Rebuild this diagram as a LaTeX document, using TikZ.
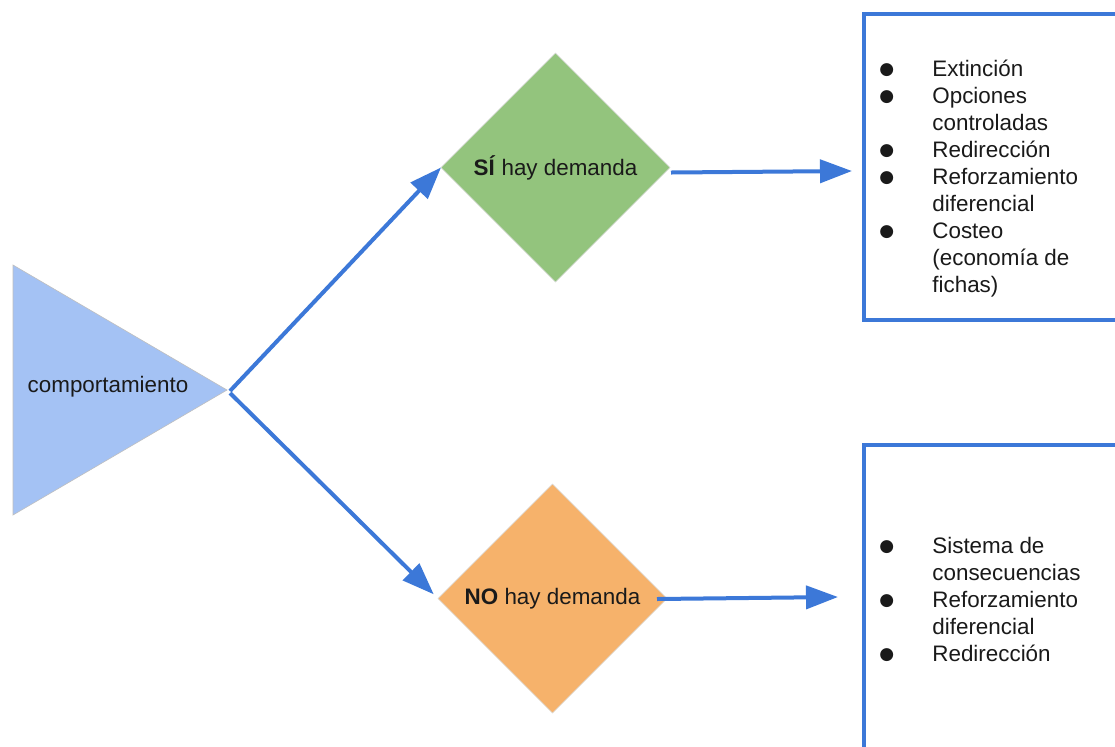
\documentclass[tikz,border=0pt]{standalone}
\usepackage{fontspec}
\setmainfont{Liberation Sans}
\newfontfamily\dejavu{DejaVu Sans}
\usetikzlibrary{shapes.geometric,arrows.meta,calc}
\definecolor{myblue}{HTML}{3C78D8}
\definecolor{trifill}{HTML}{A4C2F4}
\definecolor{grnfill}{HTML}{93C47D}
\definecolor{orgfill}{HTML}{F6B26B}
\definecolor{txt}{HTML}{1A1A1A}
\newcommand{\bul}{\raisebox{0.9pt}{\fontsize{8.5}{10}\dejavu ●}}
\begin{document}
\begin{tikzpicture}[x=0.5pt,y=-0.5pt,
  arr/.style={draw=myblue, line width=2pt, -{Triangle[length=16pt,width=11.5pt]}},
  dia/.style={diamond, minimum width=114.5pt, minimum height=114.5pt, inner sep=0pt, outer sep=0pt, draw=black!15, line width=0.3pt, text=txt, font=\fontsize{11.2}{13.5}\selectfont},
  outbox/.style={draw=myblue, line width=2pt, fill=white, outer sep=0pt, inner sep=0pt, anchor=north west},
  lst/.style={inner sep=0pt, anchor=north west, text=txt, font=\fontsize{11.2}{13.5}\selectfont},
  lbl/.style={text=txt, font=\fontsize{11.2}{13.5}\selectfont}
]
\useasboundingbox (0,0) rectangle (1115,746);
\clip (0,0) rectangle (1115,746);
\fill[white] (0,0) rectangle (1115,746);
% triangle
\fill[trifill, draw=black!25, line width=0.3pt] (13,265) -- (13,515) -- (227,390) -- cycle;
\node[lbl, anchor=base] (comp) at (108,392) {comportamiento};
\coordinate (apex) at (230,391);
% diamonds
\node[dia, fill=grnfill] (si) at (555.5,167.5) {\textbf{SÍ} hay demanda};
\node[dia, fill=orgfill] (no) at (552.5,598.5) {\textbf{NO} hay demanda};
% boxes
\node[outbox, minimum width=150pt, minimum height=153pt] (b1) at (864,14) {};
\node[outbox, minimum width=150pt, minimum height=200pt] (b2) at (864,445) {};
\renewcommand{\arraystretch}{1}
\node[lst] (l1) at (879,57) {\begin{tabular}{@{}p{26.5pt}@{}l@{}}
\bul & Extinción\\
\bul & Opciones\\
 & controladas\\
\bul & Redirección\\
\bul & Reforzamiento\\
 & diferencial\\
\bul & Costeo\\
 & (economía de\\
 & fichas)
\end{tabular}};
\node[lst] (l2) at (879,534) {\begin{tabular}{@{}p{26.5pt}@{}l@{}}
\bul & Sistema de\\
 & consecuencias\\
\bul & Reforzamiento\\
 & diferencial\\
\bul & Redirección
\end{tabular}};
% arrows
\draw[arr] (apex) -- (si.west);
\draw[arr, shorten >=3pt] ([yshift=-1pt]apex) -- (no.west);
\coordinate (s1) at (671,172.5);
\coordinate (e1) at (852,171);
\coordinate (s2) at (657,599);
\coordinate (e2) at (838,597);
\draw[arr] (s1) -- (e1);
\draw[arr] (s2) -- (e2);
\end{tikzpicture}
\end{document}
